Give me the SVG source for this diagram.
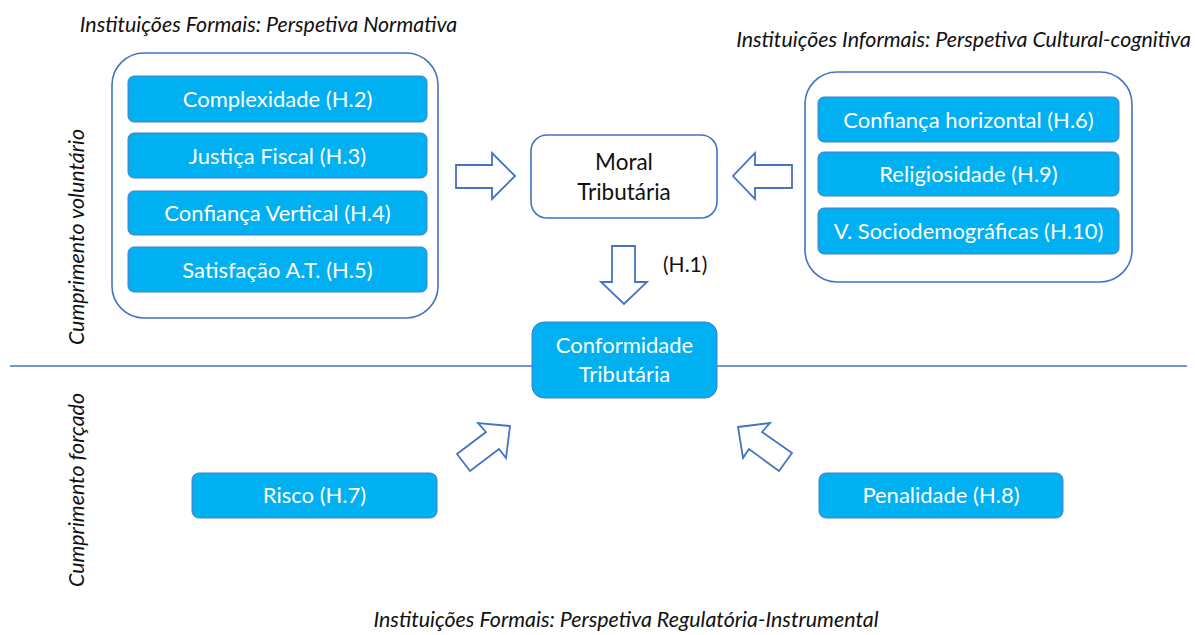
<svg xmlns="http://www.w3.org/2000/svg" width="1195" height="635" viewBox="0 0 1195 635">
<style>
.grp{fill:#fff;stroke:#4472C4;stroke-width:1.6}
.box{fill:#00B0F0;stroke:#4A7CC9;stroke-width:1}
.wbox{fill:#fff;stroke:#4472C4;stroke-width:1.6}
.arr{fill:#fff;stroke:#4472C4;stroke-width:1.8;stroke-linejoin:miter}
.wt{font-family:Lato,"Open Sans",sans-serif;font-size:22px;fill:#fff;text-anchor:middle}
.bt{font-family:Lato,"Open Sans",sans-serif;font-size:22.5px;fill:#111;text-anchor:middle}
.it{font-family:Lato,"Open Sans",sans-serif;font-style:italic;font-size:21.4px;fill:#111;text-anchor:middle}
</style>
<rect width="1195" height="635" fill="#fff"/>
<g id="titles">
<text class="it" x="268.5" y="32">Instituições Formais: Perspetiva Normativa</text>
<text class="it" x="963.5" y="47">Instituições Informais: Perspetiva Cultural-cognitiva</text>
<text class="it" x="626" y="627">Instituições Formais: Perspetiva Regulatória-Instrumental</text>
<text class="it" transform="translate(84,237) rotate(-90)">Cumprimento voluntário</text>
<text class="it" transform="translate(84,490) rotate(-90)">Cumprimento forçado</text>
</g>
<g id="divider">
<line x1="10" y1="366" x2="1187" y2="366" stroke="#4472C4" stroke-width="1.6"/>
</g>
<g id="formal-group">
<rect class="grp" x="112" y="53" width="326" height="265" rx="32"/>
<g id="complexidade"><rect class="box" x="128" y="76" width="299" height="46" rx="6"/><text class="wt" x="277.5" y="107">Complexidade (H.2)</text></g>
<g id="justica"><rect class="box" x="128" y="133" width="299" height="45" rx="6"/><text class="wt" x="277.5" y="163.5">Justiça Fiscal (H.3)</text></g>
<g id="confianca-vertical"><rect class="box" x="128" y="191" width="299" height="44" rx="6"/><text class="wt" x="277.5" y="221">Confiança Vertical (H.4)</text></g>
<g id="satisfacao"><rect class="box" x="128" y="247" width="299" height="45" rx="6"/><text class="wt" x="277.5" y="277.5">Satisfação A.T. (H.5)</text></g>
</g>
<g id="informal-group">
<rect class="grp" x="805" y="72" width="327" height="210" rx="32"/>
<g id="confianca-horizontal"><rect class="box" x="818" y="97" width="301" height="45" rx="6"/><text class="wt" x="968.5" y="127.5">Confiança horizontal (H.6)</text></g>
<g id="religiosidade"><rect class="box" x="818" y="152" width="301" height="44" rx="6"/><text class="wt" x="968.5" y="182">Religiosidade (H.9)</text></g>
<g id="sociodemograficas"><rect class="box" x="818" y="208" width="301" height="46" rx="6"/><text class="wt" x="968.5" y="239">V. Sociodemográficas (H.10)</text></g>
</g>
<g id="moral">
<rect class="wbox" x="531" y="135" width="186" height="83" rx="16"/>
<text class="bt" x="624" y="170">Moral</text>
<text class="bt" x="624" y="200">Tributária</text>
</g>
<g id="conformidade">
<rect class="box" x="532" y="322" width="185" height="76" rx="12"/>
<text class="wt" x="624.5" y="353">Conformidade</text>
<text class="wt" x="624.5" y="382">Tributária</text>
</g>
<g id="risco"><rect class="box" x="192" y="473" width="245" height="45" rx="7"/><text class="wt" x="314.5" y="503">Risco (H.7)</text></g>
<g id="penalidade"><rect class="box" x="819" y="473" width="244" height="45" rx="7"/><text class="wt" x="941" y="503">Penalidade (H.8)</text></g>
<g id="connectors">
<polygon class="arr" points="456,165 492,165 492,153 515,176 492,199 492,188 456,188"/>
<polygon class="arr" points="792,165 755,165 755,153 733,176 755,199 755,188 792,188"/>
<polygon class="arr" points="612,246 635,246 635,282 647,282 624,304 601,282 612,282"/>
<polygon class="arr" points="510,426 478,423 486,432 457,454 470,471 499,449 506,458"/>
<polygon class="arr" points="738,427 770,423 762,432 792,453 779,471 749,449 743,458"/>
<text id="h1" x="663" y="272" style="font-family:Lato,'Open Sans',sans-serif;font-size:21px;fill:#111">(H.1)</text>
</g>
</svg>
